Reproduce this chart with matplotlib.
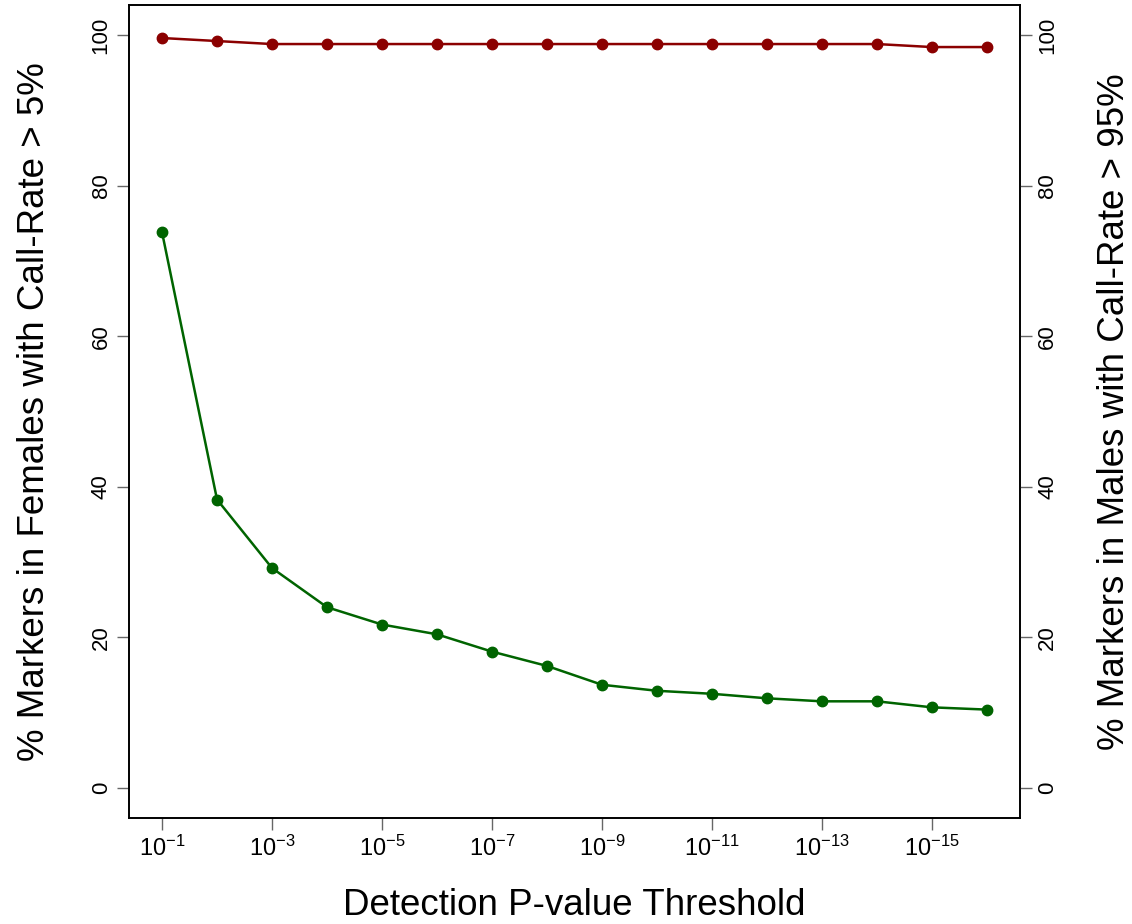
import numpy as np
import matplotlib
matplotlib.use("Agg")
import matplotlib.pyplot as plt

plt.rcParams['font.family'] = ['Liberation Sans', 'DejaVu Sans']
plt.rcParams['mathtext.fontset'] = 'custom'
plt.rcParams['mathtext.rm'] = 'Liberation Sans'
plt.rcParams['mathtext.it'] = 'Liberation Sans'

# detection p-value thresholds 10^-1 .. 10^-16
exponents = list(range(1, 17))
females_pct = [73.8, 38.3, 29.2, 24.0, 21.7, 20.4, 18.1, 16.2,
               13.7, 12.9, 12.5, 11.9, 11.5, 11.5, 10.7, 10.4]
males_pct = [99.6, 99.2, 98.8, 98.8, 98.8, 98.8, 98.8, 98.8,
             98.8, 98.8, 98.8, 98.8, 98.8, 98.8, 98.4, 98.4]
tick_exps = exponents[::2]
yticks = [0, 20, 40, 60, 80, 100]

fig = plt.figure(figsize=(11.32, 9.24), dpi=100)
ax = fig.add_axes([0.114, 0.1147, 0.787, 0.88])
ax2 = ax.twinx()

x = np.array(exponents)
ax.plot(x, females_pct, color='#006400', lw=1.8, marker='o', ms=7.5)
ax2.plot(x, males_pct, color='#8b0000', lw=1.8, marker='o', ms=7.5)

for a in (ax, ax2):
    a.set_xlim(0.4, 16.6)
    a.set_ylim(-4, 104)
    a.set_yticks(yticks)
    a.tick_params(axis='both', length=8.5, width=1, color='#666666',
                  labelsize=16, pad=4)
    for s in a.spines.values():
        s.set_linewidth(1.2)

ax.set_xticks(tick_exps)
ax.set_xticklabels([r'$10^{-%d}$' % e for e in tick_exps], fontsize=17)
ax.set_yticklabels([str(v) for v in yticks], rotation=90, va='center')
ax2.set_yticklabels([str(v) for v in yticks], rotation=90, va='center')

ax.set_xlabel('Detection P-value Threshold', fontsize=26.5, va='center')
ax.set_ylabel('% Markers in Females with Call-Rate > 5%', fontsize=26.5,
              va='center')
ax2.set_ylabel('% Markers in Males with Call-Rate > 95%', fontsize=26.5,
               rotation=90, va='center')
ax.xaxis.set_label_coords(0.5, -0.108)
ax.yaxis.set_label_coords(-0.106, 0.5)
ax2.yaxis.set_label_coords(1.1066, 0.5)

fig.savefig('out.png', dpi=100)
